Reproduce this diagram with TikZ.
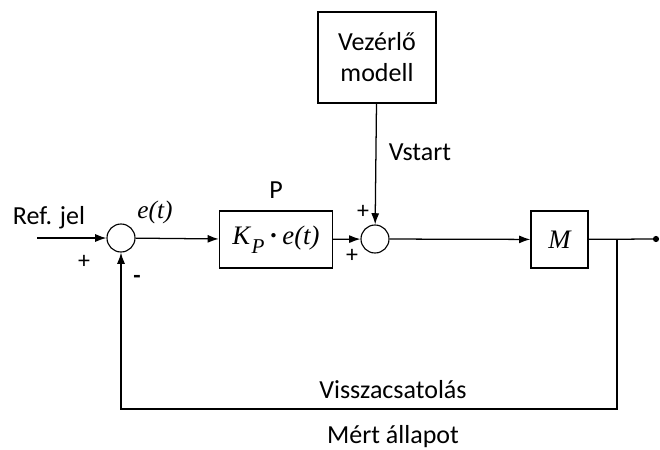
\documentclass[tikz,border=0pt]{standalone}
\usepackage{fontspec}
\setmainfont{Carlito}
\newfontfamily\kepletfont{Liberation Serif}
\usetikzlibrary{arrows.meta, positioning}

\begin{document}
\begin{tikzpicture}[x=0.025cm, y=-0.025cm,
  blok/.style={draw, line width=1pt, inner sep=0pt, font=\kepletfont\itshape\fontsize{19}{22}\selectfont},
  vblok/.style={draw, line width=1pt, inner sep=0pt, align=center, font=\fontsize{18.5}{22}\selectfont},
  sum/.style={draw, circle, line width=0.8pt, minimum size=0.7cm, inner sep=0pt},
  lbl/.style={font=\fontsize{18.5}{22}\selectfont},
  jel/.style={font=\fontsize{17}{19}\selectfont},
  arr/.style={-{Latex[length=2.8mm,width=2mm]}, line width=0.9pt},
  vonal/.style={line width=0.9pt}
]
\useasboundingbox (0,0) rectangle (660,449);

% 1. Osszegzo pontok
\node[sum] (s1) at (121,238) {};
\node[sum] (s2) at (375,239) {};

% 2. Blokkok
\node[blok, minimum width=2.825cm, minimum height=1.425cm] (p) at (276,239.5)
  {K\kern1pt\raisebox{-0.7ex}{\fontsize{15}{17}\selectfont P}\,{\upshape\bfseries\textperiodcentered}\,e(t)};
\node[vblok, minimum width=2.95cm, minimum height=2.275cm] (vm) at (377,57.5)
  {Vezérlő\\modell};
\node[blok, minimum width=1.425cm, minimum height=1.425cm] (m) at (559.5,239.5) {M};

% 3. Ki- es bemenetek
\coordinate (be) at (37,238);
\coordinate (ag) at (617,239);
\coordinate (ki) at (656,239);
\coordinate (sarok) at (617,409);

% 4. Nyilak
\draw[arr] (be) -- (s1);
\draw[arr] (s1) -- (p);
\draw[arr] (p) -- (s2);
\draw[arr] (vm) -- (s2);
\draw[arr] (s2) -- (m);
\draw[vonal] (m) -- (ki);
\fill (ki) circle (2.2pt);

% Visszacsatolas
\draw[arr] (ag) -- (sarok) -| (s1);

% 5. Feliratok
\node[lbl] (ref) at (49,218) {Ref. jel};
\node[jel] (p1) at (84,262) {+};
\node[jel, font=\bfseries\fontsize{17}{19}\selectfont] (m1) at (137,279) {-};
\node[blok, draw=none, font=\kepletfont\itshape\fontsize{18}{20}\selectfont] (et) at (155,212) {e(t)};
\node[lbl] (pl) at (276,190) {P};
\node[jel] (p2) at (363,212) {+};
\node[jel] (p3) at (352,256) {+};
\node[lbl] (vs) at (420,152) {Vstart};
\node[lbl] (vcs) at (393,390) {Visszacsatolás};
\node[lbl] (ma) at (393,437) {Mért állapot};

\end{tikzpicture}
\end{document}
